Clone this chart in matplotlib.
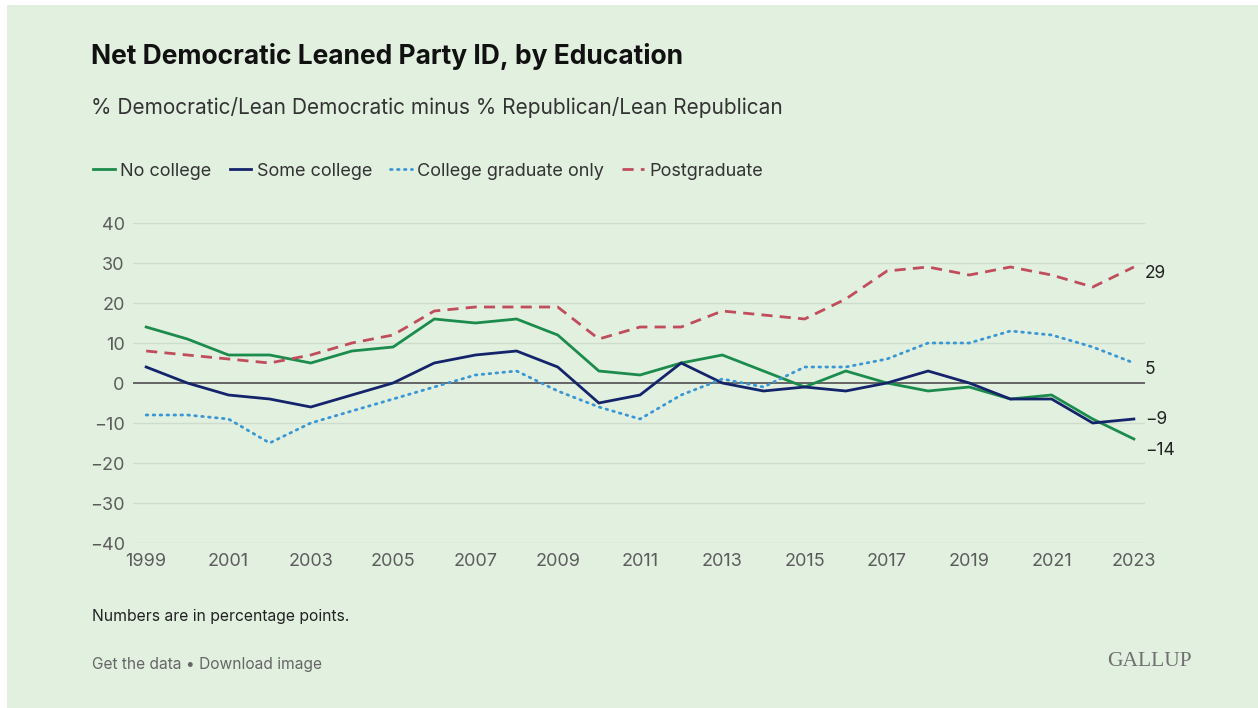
import matplotlib.pyplot as plt
from matplotlib.patches import Rectangle

plt.rcParams['font.family'] = ['Inter', 'DejaVu Sans']

years = list(range(1999, 2024))

# Net Democratic leaned party ID (percentage points)
no_college = [14, 11, 7, 7, 5, 8, 9, 16, 15, 16, 12, 3, 2, 5, 7, 3, -1, 3, 0, -2, -1, -4, -3, -9, -14]
some_college = [4, 0, -3, -4, -6, -3, 0, 5, 7, 8, 4, -5, -3, 5, 0, -2, -1, -2, 0, 3, 0, -4, -4, -10, -9]
college_grad = [-8, -8, -9, -15, -10, -7, -4, -1, 2, 3, -2, -6, -9, -3, 1, -1, 4, 4, 6, 10, 10, 13, 12, 9, 5]
postgrad = [8, 7, 6, 5, 7, 10, 12, 18, 19, 19, 19, 11, 14, 14, 18, 17, 16, 21, 28, 29, 27, 29, 27, 24, 29]

y_ticks = [-40, -30, -20, -10, 0, 10, 20, 30, 40]
x_ticks = list(range(1999, 2024, 2))

bg = '#e2f0e0'
fig = plt.figure(figsize=(12.58, 7.08), dpi=100, facecolor='white')
fig.patches.append(Rectangle((7 / 1258, 0), 1, 1 - 5 / 708, transform=fig.transFigure,
                             facecolor=bg, edgecolor='none', zorder=-10))

ax = fig.add_axes([133 / 1258, 1 - 543 / 708, 1012 / 1258, 320 / 708])
ax.set_facecolor('none')

series = [
    ('No college', no_college, '#1c8c4c', '-', 'butt'),
    ('Some college', some_college, '#14246a', '-', 'butt'),
    ('College graduate only', college_grad, '#3a97d4', (0, (0.6, 1.9)), 'round'),
    ('Postgraduate', postgrad, '#c04d5c', (0, (4, 2.6)), 'butt'),
]
for name, vals, col, ls, cap in series:
    ax.plot(years, vals, color=col, lw=2.0, linestyle=ls, label=name,
            dash_capstyle=cap, solid_joinstyle='miter', zorder=3)

# end-of-line value labels
end_offsets = [-8, 0, -4.5, -4.5]
for (name, vals, col, ls, cap), dy in zip(series, end_offsets):
    lab = str(vals[-1]).replace('-', '\u2212')
    ax.annotate(lab, xy=(years[-1], vals[-1]), xytext=(8, dy), textcoords='offset points',
                ha='left', va='center', fontsize=12.5, color='#222222',
                annotation_clip=False)

ax.set_xlim(1998.68, 2023.27)
ax.set_ylim(-40, 40)
ax.set_yticks(y_ticks)
ax.set_yticklabels([str(v).replace('-', '\u2212') for v in y_ticks])
ax.set_xticks(x_ticks)
for v in y_ticks:
    if v == 0:
        ax.axhline(0, color='#5a5a5a', lw=1.3, zorder=2)
    else:
        ax.axhline(v, color='#cfdccd', lw=1.0, zorder=1)
for s in ax.spines.values():
    s.set_visible(False)
ax.tick_params(axis='both', length=0, labelsize=13, colors='#5c5c5c')
ax.tick_params(axis='y', pad=6)
ax.tick_params(axis='x', pad=7)

leg = ax.legend(loc='center left', bbox_to_anchor=(86 / 1258, 1 - 171 / 708),
                bbox_transform=fig.transFigure, ncol=4, frameon=False,
                fontsize=13, handlelength=1.2, handletextpad=0.3,
                columnspacing=1.0, borderaxespad=0)
for t in leg.get_texts():
    t.set_color('#333333')

fig.text(91 / 1258, 1 - 56 / 708, 'Net Democratic Leaned Party ID, by Education',
         fontsize=19, fontweight='bold', color='#111111', va='center', ha='left')
fig.text(91 / 1258, 1 - 108 / 708, '% Democratic/Lean Democratic minus % Republican/Lean Republican',
         fontsize=15, color='#333333', va='center', ha='left')
fig.text(92 / 1258, 1 - 617 / 708, 'Numbers are in percentage points.',
         fontsize=11.3, color='#222222', va='center', ha='left')
fig.text(92 / 1258, 1 - 664 / 708, 'Get the data \u2022 Download image',
         fontsize=11.2, color='#666666', va='center', ha='left')
fig.text(1192 / 1258, 1 - 662 / 708, 'GALLUP', family=['Liberation Serif', 'DejaVu Serif'],
         fontsize=15.5, color='#707070', va='center', ha='right')

fig.savefig('out.png', dpi=100, facecolor=fig.get_facecolor())
